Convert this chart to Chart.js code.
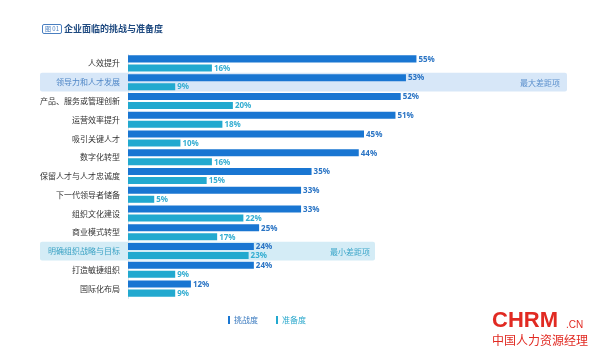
<!DOCTYPE html>
<html>
<head>
<meta charset="utf-8">
<script src="https://cdn.jsdelivr.net/npm/chart.js@4/dist/chart.umd.min.js"></script>
<style>
  html, body { margin: 0; padding: 0; background: #fff; }
  body { width: 600px; height: 359px; position: relative; overflow: hidden; font-family: "Noto Sans CJK SC", "Noto Sans", sans-serif; }
  #wrap { position: absolute; left: 0; top: 0; width: 600px; height: 359px; }
  .tag { position: absolute; left: 42px; top: 24px; border: 1px solid #4a7fc0; border-radius: 2px; color: #4a7fc0; font-size: 6px; line-height: 8px; padding: 0 2px; }
  .title { position: absolute; left: 64px; top: 21px; color: #1f4a80; font-size: 9px; font-weight: bold; line-height: 16px; }
  .legend { position: absolute; top: 314px; font-size: 8px; line-height: 12px; }
  .legend i { display: inline-block; width: 2px; height: 8px; margin-right: 4px; vertical-align: -1px; }
  .logo { position: absolute; color: #e12a22; white-space: nowrap; }
  .logo.en { left: 492px; top: 308px; font-family: "Liberation Sans", sans-serif; font-weight: bold; font-size: 22px; line-height: 24px; }
  .logo.cn { left: 566px; top: 319px; font-family: "Liberation Sans", sans-serif; font-size: 10px; line-height: 12px; }
  .logo.zh { left: 492px; top: 332px; font-size: 12px; line-height: 15px; }
</style>
</head>
<body>
<div id="wrap"><canvas id="grafico" width="600" height="359"></canvas></div>
<div class="tag">图 01</div>
<div class="title">企业面临的挑战与准备度</div>
<div class="legend" style="left:228px;color:#3d7cc0"><i style="background:#1976d2"></i>挑战度</div>
<div class="legend" style="left:276px;color:#2aa8cc"><i style="background:#22a9cf"></i>准备度</div>
<div class="logo en">CHRM</div>
<div class="logo cn">.CN</div>
<div class="logo zh">中国人力资源经理</div>
<script>
  const categorias = ['人效提升', '领导力和人才发展', '产品、服务或管理创新', '运营效率提升', '吸引关键人才', '数字化转型',
    '保留人才与人才忠诚度', '下一代领导者储备', '组织文化建设', '商业模式转型', '明确组织战略与目标', '打造敏捷组织', '国际化布局'];
  const desafio = [55, 53, 52, 51, 45, 44, 35, 33, 33, 25, 24, 24, 12];
  const preparo = [16, 9, 20, 18, 10, 16, 15, 5, 22, 17, 23, 9, 9];
  const destaques = [
    { index: 1, texto: '最大差距项', fim: 567, textoX: 520, fundo: '#d7e7f8', cor: '#5b8fcc' },
    { index: 10, texto: '最小差距项', fim: 375, textoX: 330, fundo: '#d4ecf6', cor: '#3aa5c8' }
  ];

  const corDesafio = '#1976d2';
  const corPreparo = '#22a9cf';

  const faixas = {
    id: 'faixas',
    beforeDraw(chart) {
      const { ctx, scales: { y } } = chart;
      const passo = Math.abs(y.getPixelForValue(1) - y.getPixelForValue(0));
      ctx.save();
      destaques.forEach(d => {
        const cy = y.getPixelForValue(d.index);
        ctx.fillStyle = d.fundo;
        ctx.beginPath();
        ctx.roundRect(40, cy - passo / 2, d.fim - 40, passo, 2);
        ctx.fill();
        ctx.fillStyle = d.cor;
        ctx.font = '8px "Noto Sans CJK SC"';
        ctx.textBaseline = 'middle';
        ctx.fillText(d.texto, d.textoX, cy + 0.5);
      });
      ctx.restore();
    },
    afterDatasetsDraw(chart) {
      const { ctx } = chart;
      ctx.save();
      ctx.font = 'bold 8px "Noto Sans", sans-serif';
      ctx.textBaseline = 'middle';
      chart.data.datasets.forEach((ds, i) => {
        ctx.fillStyle = i === 0 ? '#2a74c4' : '#35aed2';
        chart.getDatasetMeta(i).data.forEach((bar, j) => {
          ctx.fillText(ds.data[j] + '%', bar.x + 2, bar.y + 0.5);
        });
      });
      ctx.restore();
    }
  };

  new Chart(document.getElementById('grafico').getContext('2d'), {
    type: 'bar',
    data: {
      labels: categorias,
      datasets: [
        { label: '挑战度', data: desafio, backgroundColor: corDesafio },
        { label: '准备度', data: preparo, backgroundColor: corPreparo }
      ]
    },
    options: {
      indexAxis: 'y',
      responsive: false,
      animation: false,
      categoryPercentage: 0.96,
      barPercentage: 0.78,
      layout: { padding: { top: 54, bottom: 61, left: 0, right: 0 } },
      plugins: { legend: { display: false }, tooltip: { enabled: false } },
      scales: {
        x: { display: false, min: 0, max: 90 },
        y: {
          afterFit(scale) { scale.width = 128; },
          grid: { display: false, drawTicks: false },
          border: { display: true, color: '#e3e6ea', width: 1 },
          ticks: {
            padding: 8,
            font: { size: 8, family: '"Noto Sans CJK SC"' },
            color: ctx => ctx.index === 1 ? '#4f86c6' : (ctx.index === 10 ? '#3aa2c4' : '#333333')
          }
        }
      }
    },
    plugins: [faixas]
  });
</script>
</body>
</html>
